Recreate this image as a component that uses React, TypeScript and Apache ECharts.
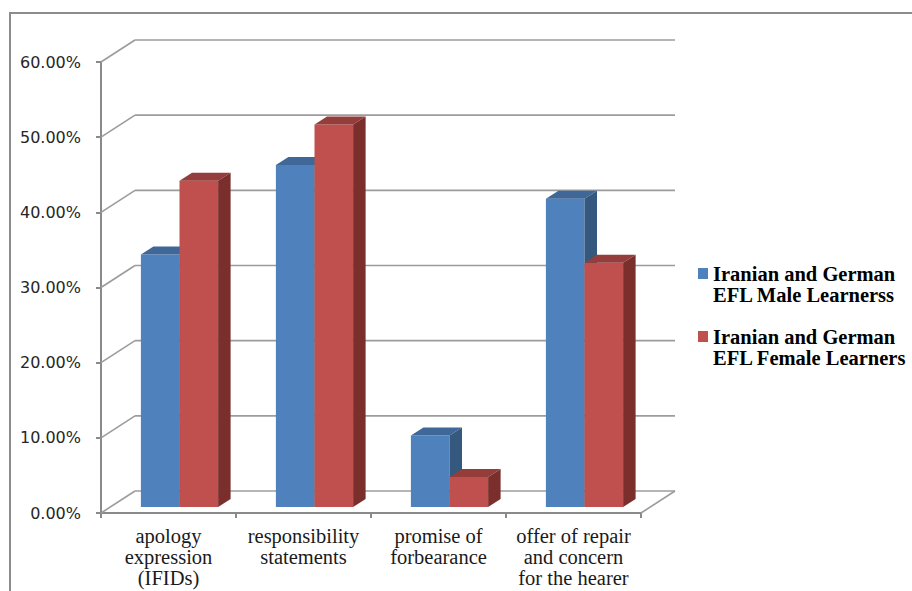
import React, { useEffect, useRef } from "react";
import * as echarts from "echarts";

const categories = [
  "apology\nexpression\n(IFIDs)",
  "responsibility\nstatements",
  "promise of\nforbearance",
  "offer of repair\nand concern\nfor the hearer",
];
const maleValues = [0.336, 0.455, 0.095, 0.41];
const femaleValues = [0.434, 0.509, 0.04, 0.325];
const seriesNames = [
  "Iranian and German\nEFL Male Learnerss",
  "Iranian and German\nEFL Female Learners",
];
const yTicks = [0, 0.1, 0.2, 0.3, 0.4, 0.5, 0.6];

const FRONT_COLORS = ["#4F81BD", "#C0504D"];
const TOP_COLORS = ["#3F6797", "#943D3B"];
const SIDE_COLORS = ["#35587F", "#7B2F2D"];

// oblique depth of the plot box
const DX = 34;
const DY = 22;
// bar geometry
const BAR_FRAC = 0.286;
const BAR_SHIFT_X = 11;
const BAR_SHIFT_Y = 6;
const BAR_DX = 12.5;
const BAR_DY = 8;

const WALL = "#9c9c9c";
const AXIS = "#8a8a8a";

function makeBarRender(si: number) {
  return (params: any, api: any) => {
    const idx = api.value(0);
    const v = api.value(1);
    const base = api.coord([idx, 0]);
    const top = api.coord([idx, v]);
    const band = api.size([1, 0])[0];
    const w = band * BAR_FRAC;
    const l = base[0] - w + si * w + BAR_SHIFT_X;
    const r = l + w;
    const b = base[1] - BAR_SHIFT_Y;
    const t = top[1] - BAR_SHIFT_Y;
    return {
      type: "group",
      children: [
        {
          type: "rect",
          shape: { x: l, y: t, width: w, height: b - t },
          style: { fill: FRONT_COLORS[si] },
        },
        {
          type: "polygon",
          shape: {
            points: [
              [l, t],
              [r, t],
              [r + BAR_DX, t - BAR_DY],
              [l + BAR_DX, t - BAR_DY],
            ],
          },
          style: { fill: TOP_COLORS[si] },
        },
        {
          type: "polygon",
          shape: {
            points: [
              [r, t],
              [r + BAR_DX, t - BAR_DY],
              [r + BAR_DX, b - BAR_DY],
              [r, b],
            ],
          },
          style: { fill: SIDE_COLORS[si] },
        },
      ],
    };
  };
}

function wallRender(params: any, api: any) {
  const cs = params.coordSys;
  const v = api.value(1);
  const y = api.coord([0, v])[1];
  const children: any[] = [
    {
      type: "line",
      shape: { x1: cs.x, y1: y, x2: cs.x + DX, y2: y - DY },
      style: { stroke: WALL, lineWidth: 1.6 },
    },
    {
      type: "line",
      shape: { x1: cs.x + DX, y1: y - DY, x2: cs.x + cs.width + DX, y2: y - DY },
      style: { stroke: WALL, lineWidth: 1.6 },
    },
  ];
  if (v === 0) {
    children.push({
      type: "line",
      shape: { x1: cs.x + cs.width, y1: y, x2: cs.x + cs.width + DX, y2: y - DY },
      style: { stroke: WALL, lineWidth: 1.6 },
    });
  }
  return { type: "group", children };
}

export default function App() {
  const ref = useRef<HTMLDivElement>(null);
  useEffect(() => {
    document.body.style.margin = "0";
    const chart = echarts.init(ref.current!, undefined, { renderer: "svg" });
    chart.setOption({
      animation: false,
      backgroundColor: "#ffffff",
      graphic: [
        {
          type: "rect",
          silent: true,
          z: -10,
          shape: { x: 10, y: 13, width: 1000, height: 700 },
          style: { fill: "none", stroke: "#8c8c8c", lineWidth: 2 },
        },
      ],
      legend: {
        orient: "vertical",
        left: 698,
        top: 242,
        padding: 0,
        itemGap: 0,
        itemWidth: 10,
        itemHeight: 11,
        icon: "rect",
        data: seriesNames,
        formatter: (name: string) => "\n" + name,
        textStyle: {
          fontFamily: "Liberation Serif",
          fontWeight: "bold",
          fontSize: 20.5,
          lineHeight: 21,
          color: "#000",
        },
      },
      grid: {
        left: 101,
        top: 62,
        width: 540,
        height: 451,
        outerBoundsMode: "none",
        containLabel: false,
      },
      xAxis: {
        type: "category",
        data: categories,
        boundaryGap: true,
        axisLine: { show: true, lineStyle: { color: AXIS, width: 2 } },
        axisTick: { show: true, length: 5, lineStyle: { color: AXIS, width: 2 } },
        axisLabel: {
          interval: 0,
          margin: 12,
          fontFamily: "Liberation Serif",
          fontSize: 20.5,
          lineHeight: 21,
          color: "#1a1a1a",
        },
        splitLine: { show: false },
      },
      yAxis: {
        type: "value",
        min: 0,
        max: 0.6,
        interval: 0.1,
        axisLine: { show: true, lineStyle: { color: AXIS, width: 2 } },
        axisTick: { show: true, length: 5, lineStyle: { color: AXIS, width: 2 } },
        axisLabel: {
          margin: 20,
          fontFamily: "DejaVu Sans",
          fontSize: 16,
          color: "#262626",
          formatter: (v: number) => (v * 100).toFixed(2) + "%",
        },
        splitLine: { show: false },
      },
      series: [
        {
          type: "custom",
          name: "wall",
          silent: true,
          z: 1,
          clip: false,
          renderItem: wallRender,
          encode: { x: 0, y: 1 },
          data: yTicks.map((v) => [0, v]),
        },
        {
          type: "custom",
          name: seriesNames[0],
          z: 2,
          clip: false,
          itemStyle: { color: FRONT_COLORS[0] },
          renderItem: makeBarRender(0),
          encode: { x: 0, y: 1 },
          data: maleValues.map((v, i) => [i, v]),
        },
        {
          type: "custom",
          name: seriesNames[1],
          z: 3,
          clip: false,
          itemStyle: { color: FRONT_COLORS[1] },
          renderItem: makeBarRender(1),
          encode: { x: 0, y: 1 },
          data: femaleValues.map((v, i) => [i, v]),
        },
      ],
    });
    return () => chart.dispose();
  }, []);
  return <div ref={ref} style={{ width: 912, height: 591 }} />;
}
